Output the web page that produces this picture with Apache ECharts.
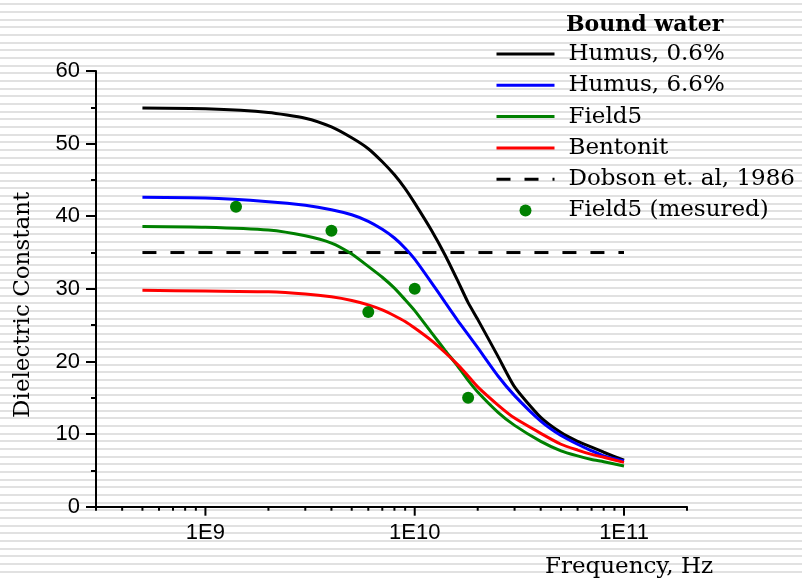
<!DOCTYPE html>
<html>
<head>
<meta charset="utf-8">
<script src="https://cdn.jsdelivr.net/npm/echarts@6/dist/echarts.min.js"></script>
<style>
  html, body { margin: 0; padding: 0; }
  body {
    width: 802px; height: 578px;
    background: repeating-linear-gradient(to bottom, #fff 0, #fff 3.2px, #e1e1e1 3.2px, #e1e1e1 5.2px, #fff 5.2px, #fff 7.67px);
  }
  #chart { width: 802px; height: 578px; }
</style>
</head>
<body>
<div id="chart"></div>
<script>
// frequencies (Hz) the curves were read at
const freq = [5e8, 1e9, 2e9, 3e9, 4e9, 5e9, 6e9, 7e9, 8e9, 9e9, 1e10, 1.2e10, 1.4e10, 1.6e10,
              1.8e10, 2e10, 2.5e10, 3e10, 4e10, 5e10, 6e10, 7e10, 8e10, 1e11];

const humus06  = [54.9, 54.8, 54.3, 53.5, 52.3, 50.8, 49.3, 47.5, 45.7, 43.8, 41.8, 38.1, 34.6, 31.2,
                  28.1, 25.8, 20.7, 16.5, 12.3, 10.2, 9.0, 8.2, 7.5, 6.4];
const humus66  = [42.6, 42.5, 42.0, 41.5, 40.9, 40.2, 39.3, 38.2, 37.0, 35.6, 34.1, 30.9, 28.1, 25.7,
                  23.7, 21.9, 18.0, 15.3, 11.8, 9.8, 8.6, 7.7, 7.0, 6.3];
const field5   = [38.6, 38.5, 38.1, 37.3, 36.3, 34.8, 33.1, 31.6, 30.1, 28.5, 27.0, 24.0, 21.5, 19.4,
                  17.4, 15.8, 13.0, 11.2, 9.0, 7.7, 7.0, 6.5, 6.2, 5.6];
const bentonit = [29.8, 29.7, 29.6, 29.3, 28.9, 28.4, 27.8, 27.1, 26.3, 25.5, 24.6, 22.9, 21.2, 19.6,
                  18.0, 16.5, 14.0, 12.2, 10.1, 8.6, 7.8, 7.2, 6.8, 6.1];

const dobsonFreq = [5e8, 1e11];
const dobsonVal  = [35, 35];

const measuredFreq = [1.4e9, 4e9, 6e9, 1e10, 1.8e10];
const measuredVal  = [41.3, 38.0, 26.8, 30.0, 15.0];

// x axis tick positions
const xMajorTicks = [1e9, 1e10, 1e11];
const xMinorTicks = [3e8, 4e8, 5e8, 6e8, 7e8, 8e8, 9e8,
                     2e9, 3e9, 4e9, 5e9, 6e9, 7e9, 8e9, 9e9,
                     2e10, 3e10, 4e10, 5e10, 6e10, 7e10, 8e10, 9e10, 2e11];

const legendNames = ['Humus, 0.6%', 'Humus, 6.6%', 'Field5', 'Bentonit', 'Dobson et. al, 1986', 'Field5 (mesured)'];

const serif = 'DejaVu Serif';
const sans = 'Liberation Sans';

const pairs = (xs, ys) => xs.map((x, i) => [x, ys[i]]);

function curve(name, values, color) {
    return {
        name: name,
        type: 'line',
        data: pairs(freq, values),
        symbol: 'none',
        smooth: 0.2,
        lineStyle: { color: color, width: 3 },
        itemStyle: { color: color },
        z: 3
    };
}

const chart = echarts.init(document.getElementById('chart'));
chart.setOption({
    animation: false,
    backgroundColor: 'transparent',
    grid: { left: 96, right: 115, top: 71, bottom: 71.3, outerBoundsMode: 'none' },
    title: {
        text: 'Bound water',
        left: 566,
        top: 14,
        padding: 0,
        textStyle: { fontFamily: serif, fontWeight: 'bold', fontSize: 22, color: '#000' }
    },
    legend: {
        orient: 'vertical',
        left: 495,
        top: 42.5,
        padding: 0,
        itemWidth: 58,
        itemHeight: 12,
        itemGap: 8.3,
        lineStyle: { width: 3 },
        // line items: hide the marker that ECharts puts in the middle of the line icon
        data: legendNames.map((n, i) => i < 5 ? { name: n, itemStyle: { opacity: 0 } } : { name: n }),
        textStyle: { fontFamily: serif, fontSize: 23, lineHeight: 23, color: '#000', padding: [0, 0, 0, 9] }
    },
    xAxis: {
        type: 'log',
        logBase: 10,
        min: 3e8,
        max: 2e11,
        name: 'Frequency, Hz',
        nameLocation: 'middle',
        nameGap: 49,
        nameTextStyle: { fontFamily: serif, fontSize: 23, color: '#000', padding: [0, 0, 0, 475] },
        axisLine: { onZero: false, lineStyle: { color: '#000', width: 2 } },
        axisTick: { show: false },
        splitLine: { show: false },
        axisLabel: {
            margin: 15,
            fontFamily: sans,
            fontSize: 22,
            color: '#000',
            formatter: v => {
                const e = Math.log10(v);
                return Math.abs(e - Math.round(e)) < 1e-6 ? '1E' + Math.round(e) : '';
            }
        }
    },
    yAxis: {
        type: 'value',
        min: 0,
        max: 60,
        interval: 10,
        name: 'Dielectric Constant',
        nameLocation: 'middle',
        nameGap: 61,
        nameTextStyle: { fontFamily: serif, fontSize: 23, color: '#000', padding: [0, 32, 0, 0] },
        axisLine: { show: true, onZero: false, lineStyle: { color: '#000', width: 2 } },
        axisTick: { show: true, length: 10, lineStyle: { color: '#000', width: 2 } },
        minorTick: { show: true, splitNumber: 2, length: 5, lineStyle: { color: '#000', width: 2 } },
        splitLine: { show: false },
        axisLabel: { margin: 16, fontFamily: sans, fontSize: 22, color: '#000' }
    },
    series: [
        curve(legendNames[0], humus06, '#000000'),
        curve(legendNames[1], humus66, '#0000ff'),
        curve(legendNames[2], field5, '#008000'),
        curve(legendNames[3], bentonit, '#ff0000'),
        {
            name: legendNames[4],
            type: 'line',
            data: pairs(dobsonFreq, dobsonVal),
            symbol: 'none',
            lineStyle: { color: '#000', width: 3, type: [14, 14] },
            itemStyle: { color: '#000' },
            z: 2
        },
        {
            name: legendNames[5],
            type: 'scatter',
            data: pairs(measuredFreq, measuredVal),
            symbol: 'circle',
            symbolSize: 12,
            itemStyle: { color: '#008000', opacity: 1 },
            z: 4
        },
        {
            // ticks of the log axis, major and minor
            type: 'custom',
            silent: true,
            clip: false,
            data: xMajorTicks.map(f => [f, 0, 1]).concat(xMinorTicks.map(f => [f, 0, 0])),
            renderItem: (params, api) => {
                const p = api.coord([api.value(0), 0]);
                const len = api.value(2) ? 9 : 4;
                return {
                    type: 'line',
                    shape: { x1: p[0], y1: p[1], x2: p[0], y2: p[1] + len },
                    style: { stroke: '#000', lineWidth: 2 }
                };
            },
            z: 5
        }
    ]
});
</script>
</body>
</html>
